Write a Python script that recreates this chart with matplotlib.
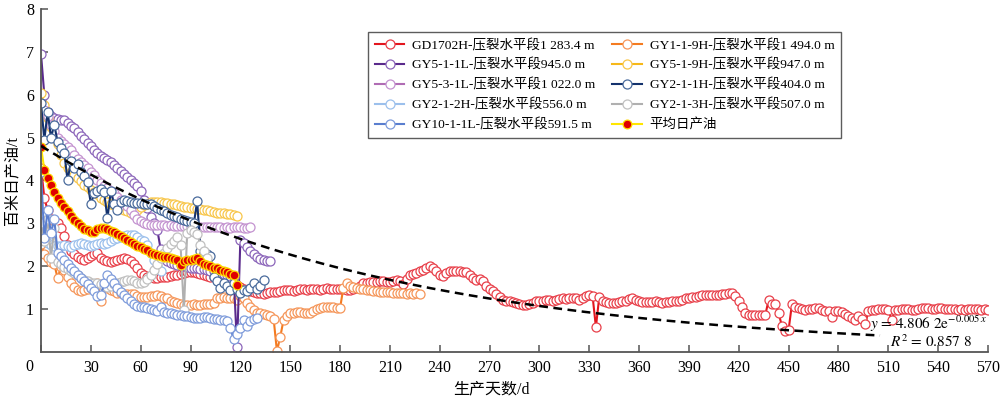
import numpy as np
import matplotlib
matplotlib.use("Agg")
import matplotlib.pyplot as plt

plt.rcParams['font.family'] = ['Liberation Serif', 'Noto Sans CJK SC']
plt.rcParams['mathtext.fontset'] = 'stix'
plt.rcParams['axes.unicode_minus'] = False

STEP = 2  # sampling interval (days)

# ---------------- data (daily oil per 100 m, t) ----------------
gd1702h = [4.3, 3.6, 3.3, 3.1, 3.05, 3.0, 2.9, 2.7, 2.5, 2.35, 2.28, 2.22, 2.18, 2.15, 2.2, 2.25, 2.28, 2.3,
           2.2, 2.15, 2.12, 2.1, 2.12, 2.15, 2.18, 2.2, 2.18, 2.12, 2.05, 1.95, 1.85, 1.8, 1.76, 1.74, 1.72, 1.72,
           1.74, 1.75, 1.76, 1.77, 1.79, 1.8, 1.82, 1.84, 1.86, 1.87, 1.86, 1.84, 1.82, 1.8, 1.78, 1.76, 1.74,
           1.72, 1.7, 1.68, 1.66, 1.63, 1.6, 1.56, 1.52, 1.48, 1.44, 1.42, 1.4, 1.38, 1.37, 1.36, 1.38, 1.4, 1.41,
           1.4, 1.42, 1.44, 1.45, 1.44, 1.43, 1.45, 1.47, 1.46, 1.45, 1.46, 1.48, 1.47, 1.45, 1.47, 1.49, 1.48,
           1.47, 1.48, 1.47, 1.46, 1.44, 1.45, 1.47, 1.5, 1.55, 1.6, 1.62, 1.63, 1.64, 1.63, 1.65, 1.66, 1.64,
           1.63, 1.65, 1.67, 1.66, 1.58, 1.7, 1.8, 1.83, 1.85, 1.88, 1.92, 1.96, 2.0, 1.97, 1.9, 1.8, 1.78, 1.85,
           1.9, 1.9, 1.89, 1.88, 1.87, 1.86, 1.8, 1.72, 1.68, 1.7, 1.65, 1.55, 1.48, 1.42, 1.35, 1.28, 1.22, 1.2,
           1.18, 1.17, 1.15, 1.12, 1.1, 1.1, 1.12, 1.15, 1.18, 1.2, 1.2, 1.22, 1.21, 1.2, 1.22, 1.24, 1.25, 1.24,
           1.25, 1.27, 1.25, 1.22, 1.25, 1.3, 1.32, 1.3, 0.58, 1.28, 1.2, 1.17, 1.15, 1.14, 1.14, 1.16, 1.18, 1.2,
           1.24, 1.27, 1.22, 1.18, 1.17, 1.17, 1.16, 1.17, 1.18, 1.16, 1.15, 1.16, 1.17, 1.18, 1.19, 1.2, 1.22,
           1.25, 1.27, 1.28, 1.28, 1.3, 1.32, 1.33, 1.33, 1.33, 1.34, 1.34, 1.35, 1.36, 1.37, 1.38, 1.3, 1.2, 1.05,
           0.9, 0.86, 0.86, 0.86, 0.86, 0.87, 0.87, 1.22, 1.12, 1.13, 0.9, 0.6, 0.5, 0.52, 1.12, 1.06, 1.02, 1.0,
           0.98, 1.0, 1.01, 1.03, 1.02, 0.98, 0.95, 0.95, 0.82, 0.96, 0.95, 0.93, 0.88, 0.84, 0.8, 0.75, 0.85,
           0.78, 0.65, 0.95, 0.98, 0.99, 1.0, 1.0, 1.01, 0.99, 0.74, 0.98, 0.99, 1.0, 1.0, 1.01, 0.99, 0.98, 1.0,
           1.02, 1.03, 1.02, 1.01, 1.0, 1.02, 1.03, 1.01, 1.0, 1.01, 1.0, 0.99, 1.0, 0.99, 1.0, 1.0, 1.01, 1.0,
           0.99, 1.0, 0.99]
gy1_1_9h = [2.52, 2.28, 2.2, 2.1, 2.05, 1.72, 1.98, 1.92, 1.75, 1.62, 1.52, 1.45, 1.42, 1.44, 1.47, 1.5, 1.52,
            1.6, 1.2, 1.55, 1.5, 1.45, 1.42, 1.38, 1.37, 1.36, 1.36, 1.36, 1.35, 1.3, 1.28, 1.28, 1.29, 1.3, 1.31,
            1.32, 1.3, 1.27, 1.25, 1.2, 1.16, 1.14, 1.12, 1.1, 1.1, 1.1, 1.11, 1.1, 1.1, 1.11, 1.12, 1.13, 1.15,
            1.25, 1.27, 1.28, 1.27, 1.26, 1.25, 1.22, 1.3, 1.25, 1.15, 1.05, 0.98, 0.92, 0.9, 0.88, 0.86, 0.85,
            0.78, 0.02, 0.35, 0.75, 0.85, 0.9, 0.92, 0.94, 0.93, 0.92, 0.9, 0.92, 0.96, 1.0, 1.02, 1.04, 1.06,
            1.06, 1.04, 1.02, 1.02, 1.5, 1.6, 1.54, 1.52, 1.5, 1.48, 1.46, 1.45, 1.44, 1.43, 1.42, 1.41, 1.41,
            1.4, 1.39, 1.38, 1.38, 1.37, 1.37, 1.36, 1.37, 1.36, 1.37, 1.36]
gy5_1_1l = [6.95, 6.0, 5.6, 5.5, 5.45, 5.44, 5.42, 5.4, 5.33, 5.28, 5.22, 5.12, 5.04, 4.96, 4.88, 4.8, 4.72,
            4.63, 4.57, 4.52, 4.47, 4.42, 4.36, 4.28, 4.22, 4.15, 4.08, 4.02, 3.94, 3.86, 3.75, 3.55, 3.35, 3.15,
            3.0, 2.85, 2.4, 2.2, 2.12, 2.08, 2.06, 2.04, 2.02, 2.0, 1.98, 1.97, 1.96, 1.95, 1.94, 1.93, 1.92, 1.9,
            1.88, 1.86, 1.84, 1.82, 1.8, 1.78, 1.75, 0.12, 2.62, 2.55, 2.45, 2.35, 2.28, 2.22, 2.18, 2.15, 2.13,
            2.12]
gy5_1_9h = [6.05, 5.75, 5.45, 5.25, 5.05, 4.85, 4.6, 4.4, 4.3, 4.2, 4.12, 4.05, 3.98, 3.9, 3.84, 3.78, 3.72,
            3.68, 3.6, 3.55, 3.5, 3.45, 3.42, 3.4, 3.36, 3.32, 3.28, 3.24, 3.23, 3.3, 3.38, 3.42, 3.46, 3.5, 3.5,
            3.49, 3.5, 3.48, 3.47, 3.45, 3.44, 3.42, 3.4, 3.39, 3.37, 3.36, 3.35, 3.34, 3.33, 3.31, 3.3, 3.28,
            3.27, 3.25, 3.24, 3.23, 3.22, 3.21, 3.2, 3.18]
gy5_3_1l = [5.7, 5.65, 5.5, 5.3, 5.15, 5.0, 4.92, 4.85, 4.78, 4.7, 4.6, 4.5, 4.42, 4.35, 4.28, 4.2, 4.12,
            4.02, 3.94, 3.88, 3.82, 3.76, 3.7, 3.62, 3.55, 3.47, 3.4, 3.3, 3.2, 3.1, 3.05, 3.0, 2.98, 2.97, 2.96,
            2.96, 2.95, 2.95, 2.94, 2.95, 2.94, 2.93, 2.93, 2.94, 2.93, 2.92, 2.93, 2.92, 2.92, 2.91, 2.92, 2.91,
            2.91, 2.92, 2.91, 2.9, 2.91, 2.9, 2.91, 2.92, 2.91, 2.9, 2.9, 2.92]
gy2_1_1h = [5.8, 4.95, 5.6, 5.0, 5.3, 4.9, 4.75, 4.65, 4.0, 4.45, 4.3, 4.38, 4.2, 4.1, 3.97, 3.45, 3.7, 3.75,
            3.8, 3.72, 3.12, 3.75, 3.45, 3.3, 3.5, 3.55, 3.52, 3.5, 3.48, 3.48, 3.47, 3.46, 3.46, 3.44, 3.4, 3.36,
            3.32, 3.28, 3.24, 3.2, 3.17, 3.14, 3.11, 3.08, 3.05, 3.03, 3.0, 3.52, 2.35, 2.3, 2.28, 2.25, 1.75,
            1.65, 1.5, 1.6, 1.55, 1.45, 1.6, 1.48, 1.38, 1.45, 1.42, 1.5, 1.6, 1.48, 1.55, 1.68]
gy2_1_2h = [3.25, 2.75, 2.55, 2.5, 2.48, 2.47, 2.48, 2.5, 2.48, 2.46, 2.5, 2.52, 2.54, 2.53, 2.5, 2.48, 2.5,
            2.53, 2.55, 2.52, 2.55, 2.6, 2.63, 2.65, 2.68, 2.7, 2.72, 2.73, 2.72, 2.68, 2.62, 2.6, 2.5, 2.3, 2.15,
            2.0, 1.88]
gy2_1_3h = [3.0, 2.6, 3.1, 2.2, 2.9, 2.1, 2.05, 1.98, 1.93, 1.9, 1.85, 1.8, 1.72, 1.68, 1.65, 1.62, 1.62, 1.6,
            1.58, 1.55, 1.52, 1.55, 1.58, 1.6, 1.63, 1.65, 1.67, 1.68, 1.65, 1.62, 1.6, 1.63, 1.7, 1.8, 1.92, 2.05,
            2.2, 2.32, 2.42, 2.52, 2.6, 2.68, 2.5, 0.98, 2.78, 2.84, 2.8, 2.75, 2.5, 2.35, 2.2]
gy10_1_1l = [4.2, 2.65, 3.3, 2.77, 3.1, 2.3, 2.25, 2.15, 2.05, 1.97, 1.9, 1.8, 1.72, 1.65, 1.58, 1.5, 1.42,
             1.3, 1.32, 1.6, 1.8, 1.7, 1.6, 1.5, 1.4, 1.32, 1.25, 1.18, 1.12, 1.08, 1.06, 1.04, 1.02, 1.0, 0.98,
             0.96, 1.06, 0.93, 0.92, 0.9, 0.88, 0.87, 0.86, 0.84, 0.83, 0.81, 0.8, 0.79, 0.8, 0.81, 0.82, 0.8,
             0.78, 0.76, 0.75, 0.74, 0.72, 0.55, 0.3, 0.42, 0.55, 0.75, 0.6, 0.72, 0.78, 0.8]
average = [4.79, 4.25, 4.05, 3.9, 3.72, 3.6, 3.48, 3.38, 3.28, 3.17, 3.08, 3.0, 2.93, 2.87, 2.84, 2.8, 2.79,
           2.86, 2.9, 2.88, 2.86, 2.82, 2.79, 2.74, 2.7, 2.67, 2.62, 2.56, 2.52, 2.48, 2.44, 2.41, 2.37, 2.32,
           2.29, 2.27, 2.24, 2.22, 2.21, 2.2, 2.18, 2.14, 2.02, 2.12, 2.15, 2.14, 2.16, 2.2, 2.12, 2.05, 2.02,
           2.0, 1.97, 1.95, 1.92, 1.9, 1.87, 1.83, 1.8, 1.56]

labels = ["GD1702H-压裂水平段1 283.4 m", "GY1-1-9H-压裂水平段1 494.0 m", "GY5-1-1L-压裂水平段945.0 m",
          "GY5-1-9H-压裂水平段947.0 m", "GY5-3-1L-压裂水平段1 022.0 m", "GY2-1-1H-压裂水平段404.0 m",
          "GY2-1-2H-压裂水平段556.0 m", "GY2-1-3H-压裂水平段507.0 m", "GY10-1-1L-压裂水平段591.5 m",
          "平均日产油"]

# fit: y = a * exp(b x)
fit_a, fit_b, fit_r2 = 4.8062, -0.005, 0.8578
fit_xmax = 505

xticks = list(range(0, 571, 30))
yticks = [1, 2, 3, 4, 5, 6, 7, 8]

# ---------------- styles ----------------
series = [gd1702h, gy1_1_9h, gy5_1_1l, gy5_1_9h, gy5_3_1l, gy2_1_1h, gy2_1_2h, gy2_1_3h, gy10_1_1l]
line_colors = ['#e3161e', '#f47b20', '#5a2a8c', '#f6b819', '#b06cb4', '#14326d', '#9cc0ec', '#b0b0b0', '#5a7ecf']
edge_colors = ['#e8404a', '#f5965a', '#8c66ba', '#f8c64a', '#c493d0', '#4a6b9c', '#9cc0ec', '#c0c0c0', '#7f9cdb']

fig = plt.figure(figsize=(10, 3.97), dpi=100)
ax = fig.add_axes([0.041, 0.1134, 0.947, 0.864])

handles = []
for vals, lc, ec, lab in zip(series, line_colors, edge_colors, labels[:9]):
    d = np.arange(len(vals)) * STEP
    h, = ax.plot(d, vals, color=lc, lw=1.5, marker='o', ms=6.5, mfc='white', mec=ec, mew=0.9, label=lab)
    handles.append(h)

d = np.arange(len(average)) * STEP
h, = ax.plot(d, average, color='#ffe600', lw=1.5, marker='o', ms=6.3, mfc='#e00000', mec='#ffd800', mew=0.9,
             label=labels[9])
handles.append(h)

xf = np.linspace(0, fit_xmax, 300)
ax.plot(xf, fit_a * np.exp(fit_b * xf), color='black', lw=1.8, ls=(0, (3.5, 2.2)), zorder=10)

ax.text(499, 0.66, r'$y$ = 4.806 2e$^{-0.005\,x}$', fontsize=11, va='center', ha='left',
        family='STIXGeneral', zorder=11)
ax.text(511, 0.25, r'$R^2$ = 0.857 8', fontsize=11, va='center', ha='left', family='STIXGeneral', zorder=11)

ax.set_xlim(0, 570)
ax.set_ylim(0, 8)
ax.set_xticks(xticks)
ax.set_xticklabels([''] + [str(v) for v in xticks[1:]])
ax.set_yticks(yticks)
ax.set_yticklabels([str(v) for v in yticks])
ax.tick_params(direction='in', length=5, width=1.1, colors='#555555', labelcolor='black', labelsize=11.5, pad=5)
ax.tick_params(axis='x', pad=6)
for s in ['top', 'right']:
    ax.spines[s].set_visible(False)
for s in ['left', 'bottom']:
    ax.spines[s].set_color('#555555')
    ax.spines[s].set_linewidth(1.3)

ax.annotate('0', xy=(0, 0), xycoords='data', xytext=(-12, -15), textcoords='offset pixels',
            ha='center', va='center', fontsize=11.5)

ax.set_xlabel('生产天数/d', fontsize=11.5)
ax.xaxis.set_label_coords((491 - 41) / 947, -0.085)
ax.set_ylabel('百米日产油/t', fontsize=11.5)
ax.yaxis.set_label_coords(-0.022, 0.5)

order = [0, 2, 4, 6, 8, 1, 3, 5, 7, 9]
leg = ax.legend([handles[i] for i in order], [labels[i] for i in order], ncol=2, loc='upper right',
                bbox_to_anchor=(0.852, 0.952), fontsize=9.7, frameon=True, fancybox=False, numpoints=1,
                handlelength=2.2, columnspacing=1.2, labelspacing=0.5, borderpad=0.5, handletextpad=0.6)
leg.get_frame().set_edgecolor('#333333')
leg.get_frame().set_linewidth(1.0)

fig.savefig('out.png', dpi=100)
